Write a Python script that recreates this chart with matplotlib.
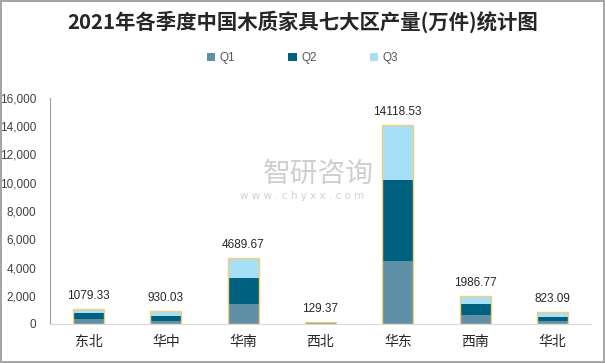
import matplotlib
matplotlib.use("Agg")
import matplotlib.pyplot as plt
import numpy as np

plt.rcParams['font.family'] = ['Noto Sans CJK SC', 'DejaVu Sans']

regions = ["东北", "华中", "华南", "西北", "华东", "西南", "华北"]
totals = [1079.33, 930.03, 4689.67, 129.37, 14118.53, 1986.77, 823.09]
q1 = [375, 240, 1420, 50, 4460, 640, 215]
q2 = [405, 350, 1840, 50, 5735, 780, 305]
q3 = [t - a - b for t, a, b in zip(totals, q1, q2)]
yticks = [0, 2000, 4000, 6000, 8000, 10000, 12000, 14000, 16000]

c1, c2, c3 = "#5E91A8", "#00607F", "#A6DFF6"
edge = "#F2CF7A"
numfont = ["Liberation Sans", "DejaVu Sans"]

fig = plt.figure(figsize=(6.05, 3.63), dpi=100)
fig.patch.set_facecolor("white")
fig.patch.set_edgecolor("#A6A6A6")
fig.patch.set_linewidth(1.5)

ax = fig.add_axes([50/605, 1-324/363, 541/605, 226/363])
x = np.arange(len(regions))
w = 0.4
ax.bar(x, q1, w, color=c1, label="Q1", zorder=2)
ax.bar(x, q2, w, bottom=q1, color=c2, label="Q2", zorder=2)
b2 = np.array(q1) + np.array(q2)
ax.bar(x, q3, w, bottom=b2, color=c3, label="Q3", zorder=2)
ax.bar(x, totals, w, fill=False, edgecolor=edge, linewidth=1.0, zorder=3)

for xi, t in zip(x, totals):
    ax.text(xi, t + 500, f"{t:.2f}", ha="center", va="bottom", fontsize=8.5,
            color="#262626", family=numfont)

ax.set_xlim(-0.5, len(regions) - 0.5)
ax.set_ylim(0, 16000)
ax.set_yticks(yticks)
ax.set_yticklabels([f"{v:,}" for v in yticks], fontsize=8.5, color="#404040",
                   family=numfont)
ax.set_xticks(x)
ax.set_xticklabels(regions, fontsize=10, color="#262626", fontweight="medium")
ax.tick_params(axis="both", length=0)
ax.tick_params(axis="y", pad=10)
ax.tick_params(axis="x", pad=8)
for s in ["top", "right"]:
    ax.spines[s].set_visible(False)
ax.spines["left"].set_color("#A0A0A0")
ax.spines["bottom"].set_color("#D9D9D9")

# watermark
fig.text(318/605, 1 - 174/363, "智研咨询", fontsize=20, color="#B0B0B0", alpha=0.6,
         ha="center", va="center")
fig.text(302/605, 1 - 196/363, "w w w . c h y x x . c o m", fontsize=7.5, color="#B0B0B0",
         alpha=0.6, ha="center", va="center", family=["DejaVu Sans"])

fig.text(0.5, 1 - 22/363, "2021年各季度中国木质家具七大区产量(万件)统计图",
         ha="center", va="center", fontsize=14.7, fontweight="bold", color="#262626")

handles, labels = ax.get_legend_handles_labels()
fig.legend(handles, labels, loc="center", bbox_to_anchor=(0.5, 1 - 58/363),
           ncol=3, frameon=False, handlelength=0.7, handleheight=0.7,
           columnspacing=4.5, handletextpad=0.4, labelcolor="#595959",
           prop={"family": numfont, "size": 8.5})

fig.savefig("out.png", dpi=100)
